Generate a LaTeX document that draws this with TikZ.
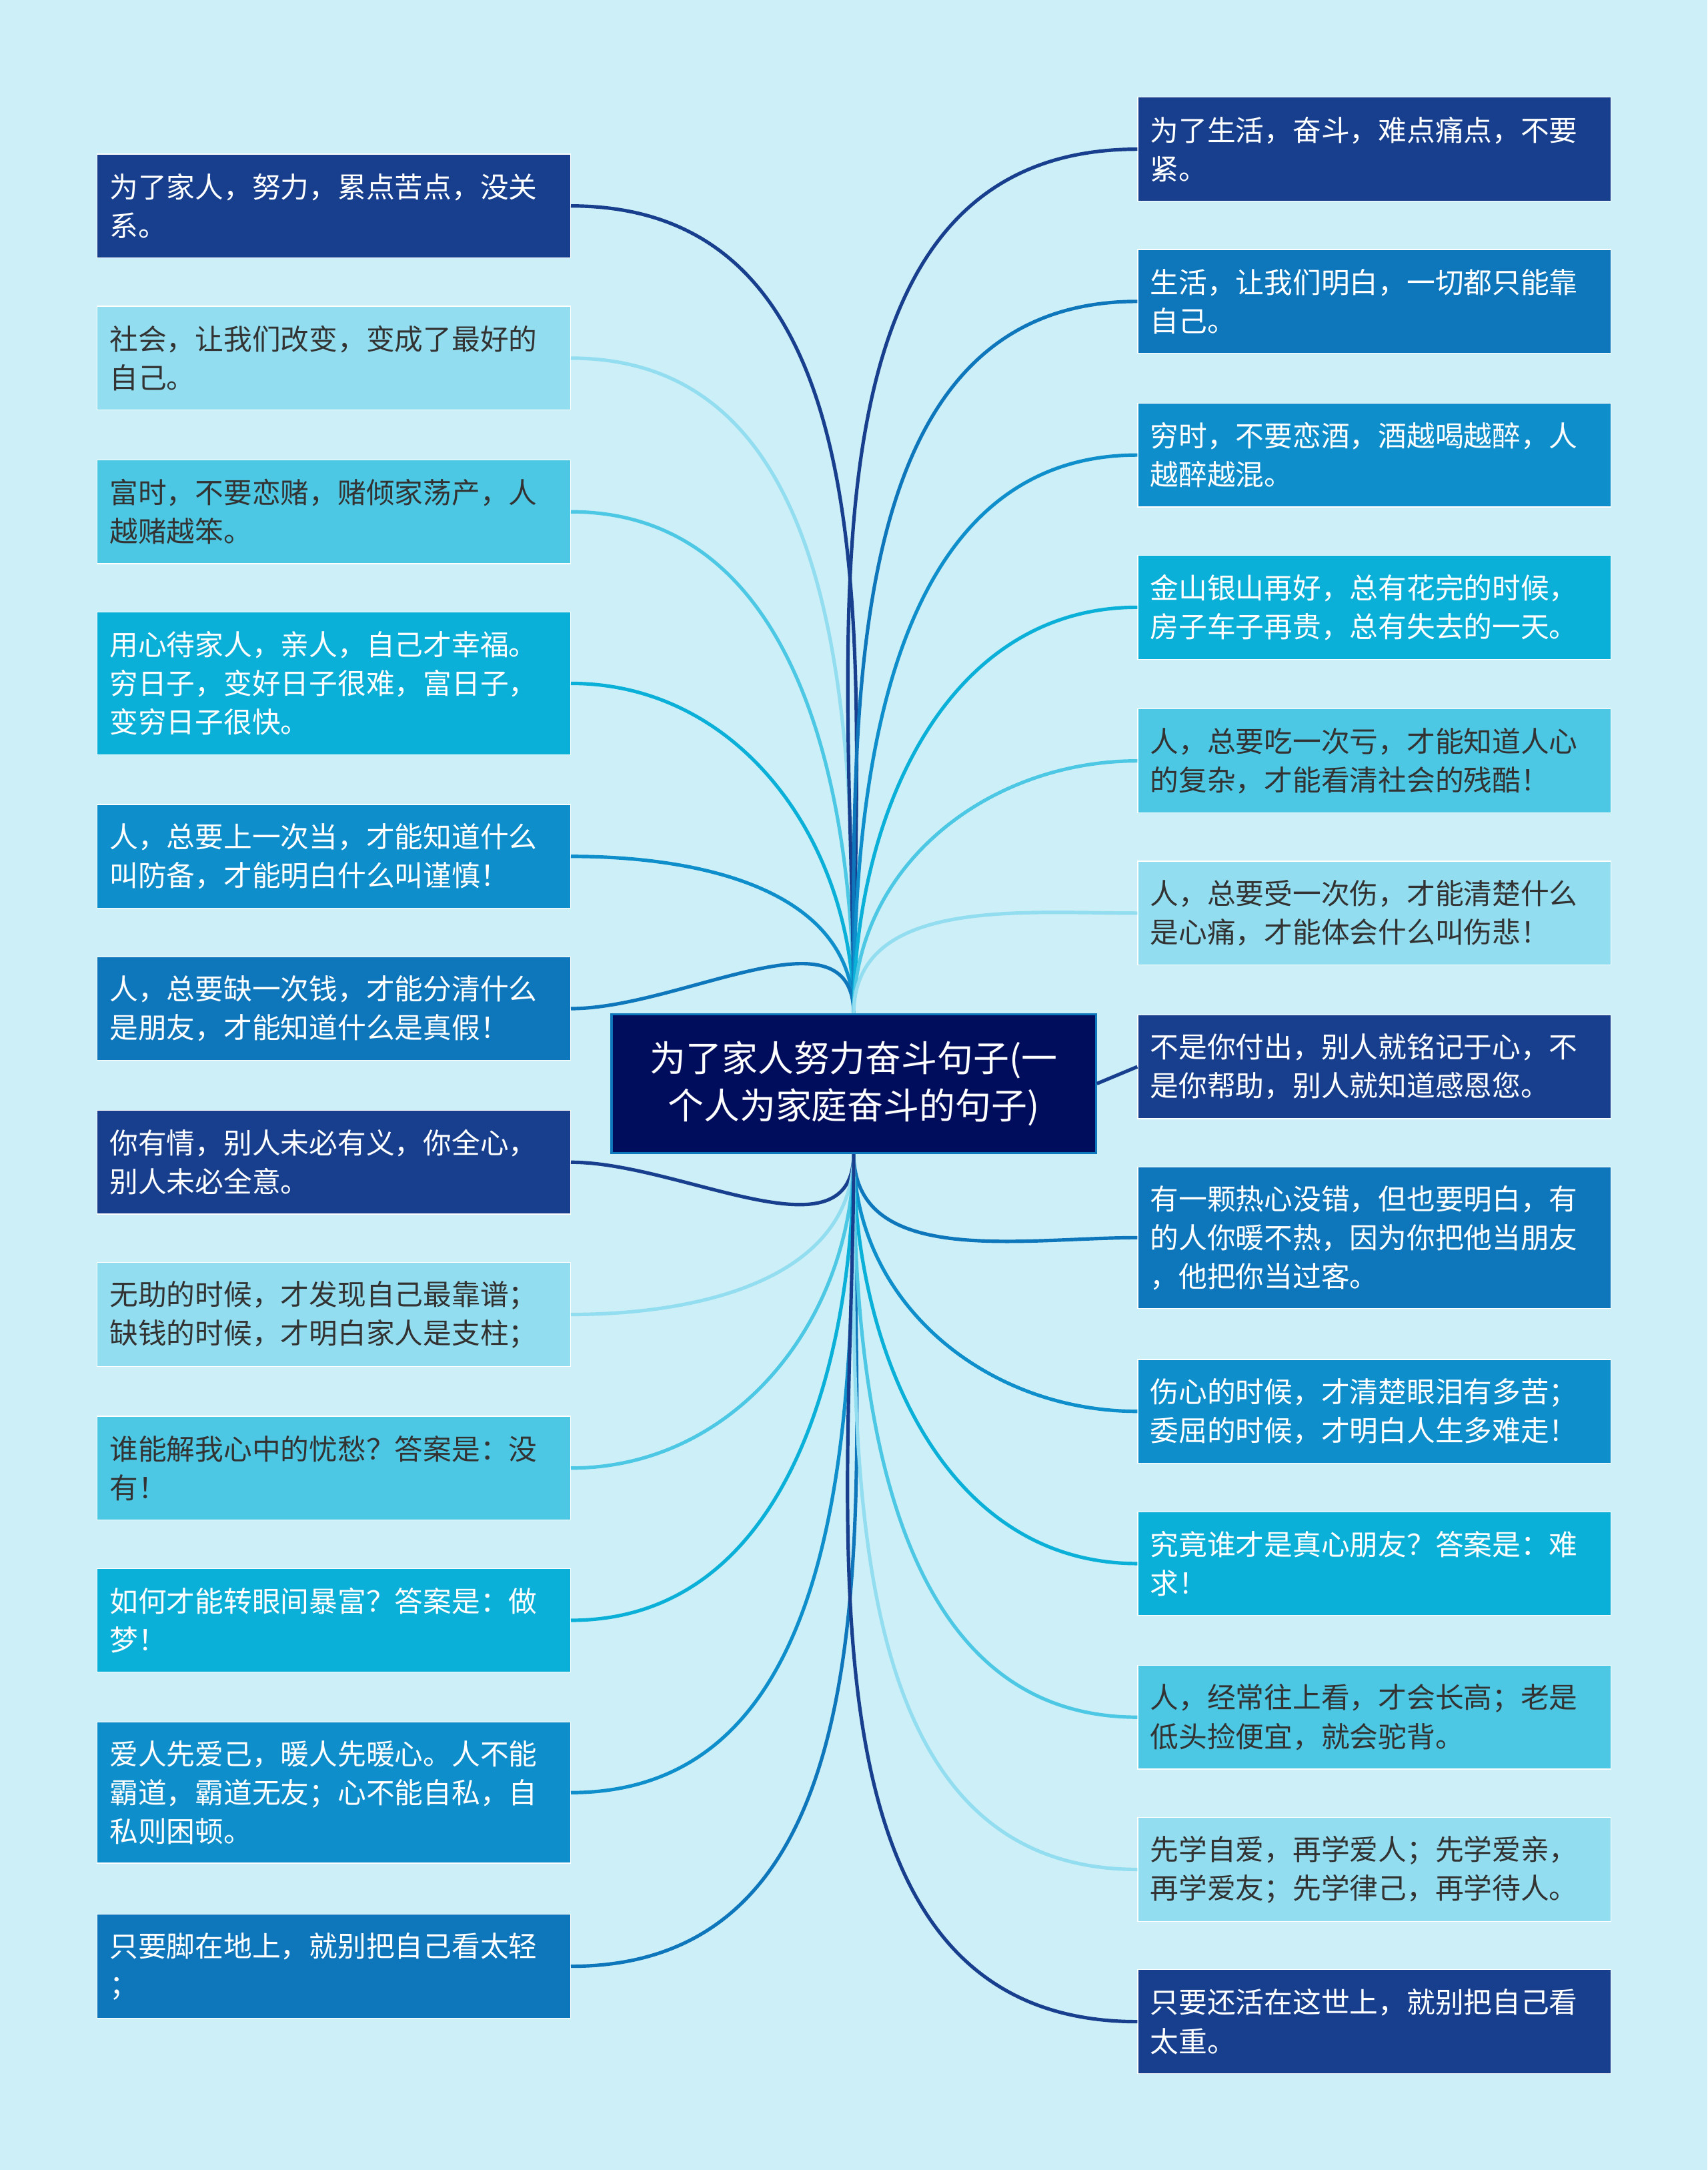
\documentclass[tikz,border=0pt]{standalone}
\usepackage{fontspec}
\setmainfont{Noto Sans CJK SC}
\XeTeXlinebreaklocale "zh"
\XeTeXlinebreakskip=0pt plus 1pt
\definecolor{bg}{HTML}{CDEFF7}
\definecolor{cA}{HTML}{173F8E}
\definecolor{cB}{HTML}{92DDEF}
\definecolor{cC}{HTML}{4CC8E4}
\definecolor{cD}{HTML}{0AB0D8}
\definecolor{cE}{HTML}{0E8FCB}
\definecolor{cF}{HTML}{0E77BC}
\definecolor{cN}{HTML}{000D5C}
\definecolor{tx}{HTML}{333333}
\tikzset{
 box/.style={draw=white,line width=0.6pt,anchor=north west,minimum width=342pt,text width=324pt,inner xsep=9pt,inner ysep=8pt,align=left,font=\fontsize{20.6}{28}\selectfont},
 bA/.style={box,fill=cA,text=white},
 bB/.style={box,fill=cB,text=tx},
 bC/.style={box,fill=cC,text=tx},
 bD/.style={box,fill=cD,text=white},
 bE/.style={box,fill=cE,text=white},
 bF/.style={box,fill=cF,text=white},
 ln/.style={line width=2.5pt}
}
\begin{document}
\begin{tikzpicture}[x=1pt,y=-1pt]
\fill[bg] (0,0) rectangle (1234,1568);
\coordinate (t) at (617,733);
\coordinate (b) at (617,833);
\foreach \n/\y/\h/\s/\txt in {
 1/111/75/bA/{为了家人，努力，累点苦点，没关\\系。},
 2/221/75/bB/{社会，让我们改变，变成了最好的\\自己。},
 3/332/75/bC/{富时，不要恋赌，赌倾家荡产，人\\越赌越笨。},
 4/442/103/bD/{用心待家人，亲人，自己才幸福。\\穷日子，变好日子很难，富日子，\\变穷日子很快。},
 5/581/75/bE/{人，总要上一次当，才能知道什么\\叫防备，才能明白什么叫谨慎！},
 6/691/75/bF/{人，总要缺一次钱，才能分清什么\\是朋友，才能知道什么是真假！},
 7/802/75/bA/{你有情，别人未必有义，你全心，\\别人未必全意。},
 8/912/75/bB/{无助的时候，才发现自己最靠谱；\\缺钱的时候，才明白家人是支柱；},
 9/1023/75/bC/{谁能解我心中的忧愁？答案是：没\\有！},
 10/1133/75/bD/{如何才能转眼间暴富？答案是：做\\梦！},
 11/1244/102/bE/{爱人先爱己，暖人先暖心。人不能\\霸道，霸道无友；心不能自私，自\\私则困顿。},
 12/1383/75/bF/{只要脚在地上，就别把自己看太轻\\；}}
{
 \node[\s,minimum height=\h pt] (L\n) at (70,\y) {\txt};
}
\foreach \n/\y/\h/\s/\txt in {
 1/70/75/bA/{为了生活，奋斗，难点痛点，不要\\紧。},
 2/180/75/bF/{生活，让我们明白，一切都只能靠\\自己。},
 3/291/75/bE/{穷时，不要恋酒，酒越喝越醉，人\\越醉越混。},
 4/401/75/bD/{金山银山再好，总有花完的时候，\\房子车子再贵，总有失去的一天。},
 5/512/75/bC/{人，总要吃一次亏，才能知道人心\\的复杂，才能看清社会的残酷！},
 6/622/75/bB/{人，总要受一次伤，才能清楚什么\\是心痛，才能体会什么叫伤悲！},
 7/733/75/bA/{不是你付出，别人就铭记于心，不\\是你帮助，别人就知道感恩您。},
 8/843/102/bF/{有一颗热心没错，但也要明白，有\\的人你暖不热，因为你把他当朋友\\，他把你当过客。},
 9/982/75/bE/{伤心的时候，才清楚眼泪有多苦；\\委屈的时候，才明白人生多难走！},
 10/1092/75/bD/{究竟谁才是真心朋友？答案是：难\\求！},
 11/1203/75/bC/{人，经常往上看，才会长高；老是\\低头捡便宜，就会驼背。},
 12/1313/75/bB/{先学自爱，再学爱人；先学爱亲，\\再学爱友；先学律己，再学待人。},
 13/1423/75/bA/{只要还活在这世上，就别把自己看\\太重。}}
{
 \node[\s,minimum height=\h pt] (R\n) at (822,\y) {\txt};
}
\foreach \n/\c in {1/cA,2/cB,3/cC,4/cD,5/cE,6/cF}
 \draw[ln,\c] (t) to[out=90,in=0] (L\n.east);
\foreach \n/\c in {7/cA,8/cB,9/cC,10/cD,11/cE,12/cF}
 \draw[ln,\c] (b) to[out=-90,in=0] (L\n.east);
\foreach \n/\c in {1/cA,2/cF,3/cE,4/cD,5/cC,6/cB}
 \draw[ln,\c] (t) to[out=90,in=180] (R\n.west);
\foreach \n/\c in {8/cF,9/cE,10/cD,11/cC,12/cB,13/cA}
 \draw[ln,\c] (b) to[out=-90,in=180] (R\n.west);
\node[draw=cF,line width=1.5pt,fill=cN,text=white,minimum width=350pt,minimum height=100pt,align=center,font=\fontsize{26}{34}\selectfont] (c) at (617,783) {为了家人努力奋斗句子(一\\个人为家庭奋斗的句子)};
\draw[ln,cA] (c.east) -- (R7.west);
\end{tikzpicture}
\end{document}
